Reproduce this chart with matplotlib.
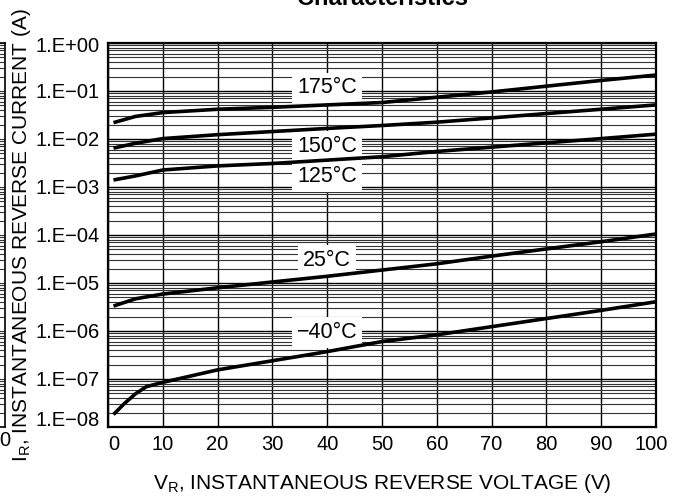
import numpy as np
import matplotlib
matplotlib.use("Agg")
import matplotlib.pyplot as plt
import matplotlib.transforms as mtransforms
from matplotlib.ticker import FixedLocator, LogLocator, NullFormatter

plt.rcParams['font.family'] = ['Liberation Sans', 'DejaVu Sans']
plt.rcParams['mathtext.fontset'] = 'custom'
plt.rcParams['mathtext.rm'] = 'Liberation Sans'

# ---- data ----
v_main = [1, 5, 10, 20, 30, 40, 50, 60, 70, 80, 90, 100]
i_175 = [0.0219, 0.0295, 0.0355, 0.0417, 0.0457, 0.0513, 0.0575, 0.0741, 0.0955, 0.126, 0.166, 0.215]
i_150 = [0.00646, 0.00813, 0.0102, 0.0123, 0.0143, 0.0166, 0.0191, 0.0224, 0.0275, 0.0339, 0.0417, 0.0513]
i_125 = [0.00140, 0.00170, 0.00226, 0.00275, 0.00309, 0.00363, 0.00427, 0.00550, 0.00676, 0.00832, 0.0102, 0.0126]
i_25 = [3.31e-6, 4.68e-6, 5.89e-6, 7.94e-6, 1.05e-5, 1.38e-5, 1.86e-5, 2.51e-5, 3.63e-5, 5.13e-5, 7.24e-5, 1.05e-4]
v_m40 = [1, 3, 5, 7, 10, 20, 30, 40, 50, 60, 70, 80, 90, 100]
i_m40 = [1.82e-8, 3.09e-8, 4.90e-8, 6.92e-8, 8.51e-8, 1.55e-7, 2.40e-7, 3.72e-7, 6.03e-7,
         8.32e-7, 1.23e-6, 1.82e-6, 2.69e-6, 4.07e-6]

curve_labels = ['175\u00b0C', '150\u00b0C', '125\u00b0C', '25\u00b0C', '\u221240\u00b0C']
label_x = [40, 40, 40, 40, 40]
label_y = [0.1155, 7.1e-3, 1.64e-3, 3.0e-5, 9.5e-7]

x_ticks = [0, 10, 20, 30, 40, 50, 60, 70, 80, 90, 100]
y_ticks = [1e0, 1e-1, 1e-2, 1e-3, 1e-4, 1e-5, 1e-6, 1e-7, 1e-8]
y_ticklabels = ['1.E+00', '1.E\u221201', '1.E\u221202', '1.E\u221203', '1.E\u221204',
                '1.E\u221205', '1.E\u221206', '1.E\u221207', '1.E\u221208']

W, H = 676, 499
fig = plt.figure(figsize=(W / 100, H / 100), dpi=100)

L, R, T, B = 108, 656, 43, 427
ax = fig.add_axes([L / W, 1 - B / H, (R - L) / W, (B - T) / H])
ax.set_yscale('log')
ax.set_xlim(0, 100)
ax.set_ylim(1e-8, 1e0)

ax.xaxis.set_major_locator(FixedLocator(x_ticks))
ax.set_xticklabels([str(t) for t in x_ticks])
ax.yaxis.set_major_locator(FixedLocator(y_ticks))
ax.set_yticklabels(y_ticklabels)
ax.yaxis.set_minor_locator(LogLocator(base=10, subs=np.arange(2, 10), numticks=100))
ax.yaxis.set_minor_formatter(NullFormatter())
ax.tick_params(axis='both', which='both', length=0, labelsize=14.5, colors='black')
ax.tick_params(axis='x', pad=6)
ax.tick_params(axis='y', pad=6)

# small nudges of the end tick labels, as in the reference
def nudge(lbl, dx_px, dy_px):
    lbl.set_transform(lbl.get_transform() +
                      mtransforms.ScaledTranslation(dx_px / 100, dy_px / 100, fig.dpi_scale_trans))

yticks_objs = ax.yaxis.get_major_ticks()
nudge(yticks_objs[-1].label1, 0, 9)
nudge(yticks_objs[0].label1, 0, -2)
xticks_objs = ax.xaxis.get_major_ticks()
nudge(xticks_objs[0].label1, 6, 0)
nudge(xticks_objs[-1].label1, -5, 0)

ax.grid(True, which='major', axis='both', color='black', lw=1.0)
ax.grid(True, which='minor', axis='y', color='#333333', lw=0.8)
ax.set_axisbelow(True)
for s in ax.spines.values():
    s.set_linewidth(1.6)
    s.set_color('black')

for vv, ii in [(v_main, i_175), (v_main, i_150), (v_main, i_125), (v_main, i_25), (v_m40, i_m40)]:
    ax.plot(vv, ii, color='black', lw=2.6, solid_capstyle='butt', zorder=4)

for txt, lx, ly in zip(curve_labels, label_x, label_y):
    ax.text(lx, ly, txt, ha='center', va='center', fontsize=15.5, zorder=3,
            bbox=dict(facecolor='white', edgecolor='none', pad=3.5))

ax.set_xlabel(r'V$_\mathregular{R}$, INSTANTANEOUS REVERSE VOLTAGE (V)', fontsize=15, labelpad=13)
ax.set_ylabel(r'I$_\mathregular{R}$, INSTANTANEOUS REVERSE CURRENT (A)', fontsize=15, labelpad=2)

# partially cut title from the source page
fig.text(382 / W, 1 - 5 / H, 'Characteristics', ha='center', va='baseline',
         fontsize=17, fontweight='bold')

# sliver of neighbouring chart at the left edge
ax2 = fig.add_axes([-60 / W, 1 - B / H, 65 / W, (B - T) / H])
ax2.set_yscale('log')
ax2.set_ylim(1e-8, 1e0)
ax2.set_xlim(0, 1)
ax2.yaxis.set_major_locator(FixedLocator(y_ticks))
ax2.yaxis.set_minor_locator(LogLocator(base=10, subs=np.arange(2, 10), numticks=100))
ax2.grid(True, which='both', axis='y', color='#333333', lw=0.8)
ax2.set_xticks([])
ax2.tick_params(which='both', length=0, labelleft=False, labelbottom=False)
for s in ax2.spines.values():
    s.set_linewidth(1.2)
fig.text(4.5 / W, 1 - 440 / H, '0', ha='center', va='center', fontsize=14.5)

fig.savefig('out.png', dpi=100)
